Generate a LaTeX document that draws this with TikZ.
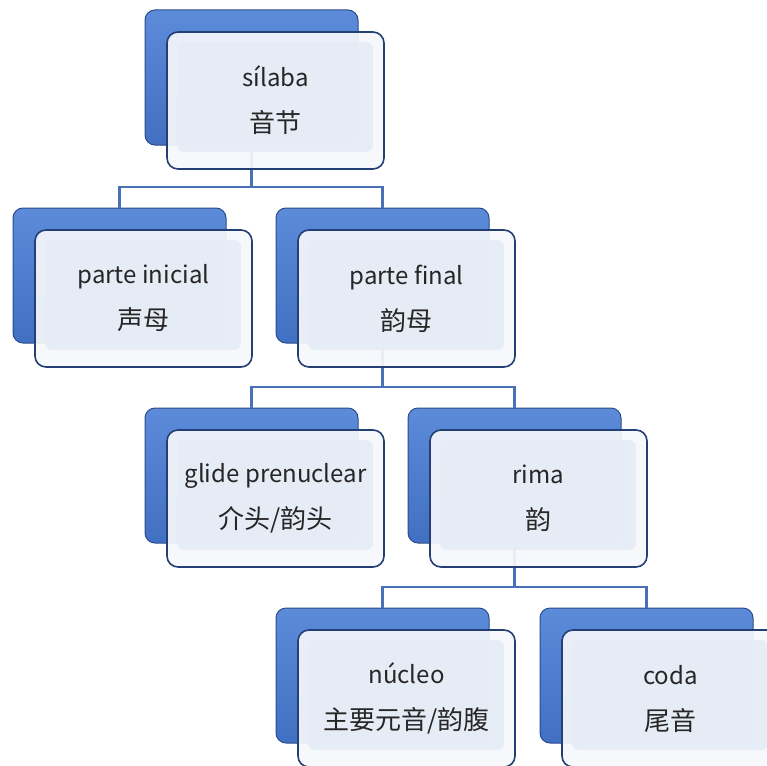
\documentclass[tikz,border=0pt]{standalone}
\usepackage{fontspec}
\setmainfont{Noto Sans CJK SC}
\usetikzlibrary{calc}
\definecolor{bluetop}{HTML}{5C8BDA}
\definecolor{bluebot}{HTML}{4170C2}
\definecolor{blueedge}{HTML}{2B4C8C}
\definecolor{frontedge}{HTML}{243F73}
\definecolor{frontfill}{HTML}{F5F7FB}
\definecolor{innerfill}{HTML}{E6ECF6}
\definecolor{conncol}{HTML}{4A70B8}
\tikzset{
  backbox/.style={draw=blueedge, line width=1pt, rounded corners=10pt,
    top color=bluetop, bottom color=bluebot, minimum width=213pt, minimum height=135pt, inner sep=0pt},
  frontbox/.style={draw=frontedge, line width=1.6pt, rounded corners=11pt,
    fill=frontfill, fill opacity=0.93, minimum width=217pt, minimum height=137pt, inner sep=0pt},
  innerbevel/.style={fill=innerfill, fill opacity=0.9, rounded corners=6pt},
  txt/.style={align=center, font=\fontsize{24}{46}\selectfont, text=black!85},
  conn/.style={draw=conncol, line width=2.2pt}
}
\newcommand\backof[3]{\node[backbox] (#1B) at (#2+106.5,#3+67.5) {};}
\newcommand\frontof[5]{%
  \node[frontbox] (#1) at (#2+130.5,#3+90.5) {};
  \fill[innerbevel] ($(#1.north west)+(11,11)$) rectangle ($(#1.south east)+(-12,-18)$);
  \node[txt] (#1T) at (#1.center) {#4\\{\fontsize{26}{46}\selectfont #5}};}
\begin{document}
\begin{tikzpicture}[x=1pt,y=-1pt]
\useasboundingbox (0,0) rectangle (767,765);
% back boxes
\backof{s}{145}{10}
\backof{pi}{13}{208}
\backof{pf}{276}{208}
\backof{g}{145}{408}
\backof{r}{408}{408}
\backof{n}{276}{608}
\backof{c}{540}{608}
% connectors
\coordinate (j1) at (0,187);
\coordinate (j2) at (0,387);
\coordinate (j3) at (0,587);
\draw[conn] (sB.south) -- (sB.south |- j1) -| (piB.north);
\draw[conn] (sB.south |- j1) -| (pfB.north);
\draw[conn] (pfB.south) -- (pfB.south |- j2) -| (gB.north);
\draw[conn] (pfB.south |- j2) -| (rB.north);
\draw[conn] (rB.south) -- (rB.south |- j3) -| (nB.north);
\draw[conn] (rB.south |- j3) -| (cB.north);
% front boxes
\frontof{s}{145}{10}{sílaba}{音节}
\frontof{pi}{13}{208}{parte inicial}{声母}
\frontof{pf}{276}{208}{parte final}{韵母}
\frontof{g}{145}{408}{glide prenuclear}{介头/韵头}
\frontof{r}{408}{408}{rima}{韵}
\frontof{n}{276}{608}{núcleo}{主要元音/韵腹}
\frontof{c}{540}{608}{coda}{尾音}
\end{tikzpicture}
\end{document}
